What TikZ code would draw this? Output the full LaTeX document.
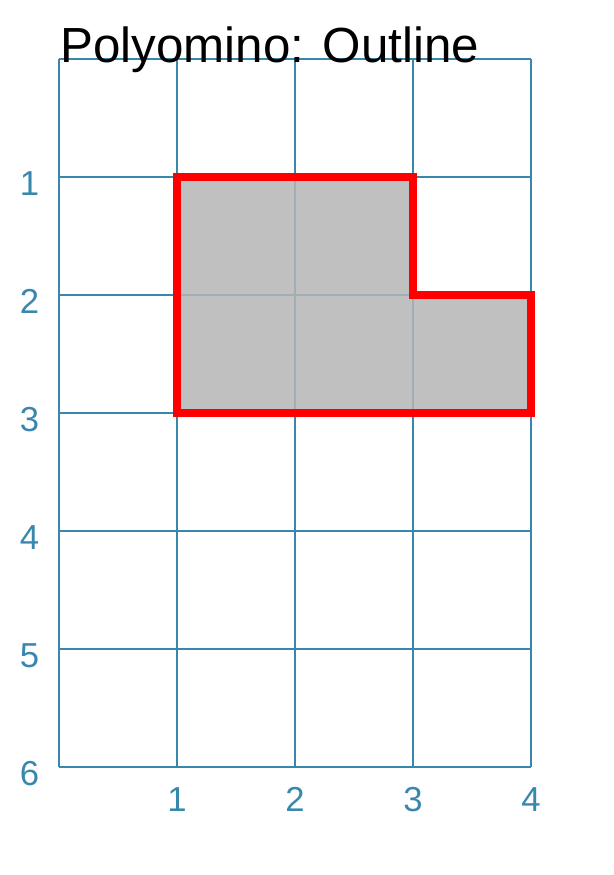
\documentclass[tikz,border=0pt]{standalone}
\usepackage{fontspec}
\setmainfont{Liberation Sans}
\definecolor{gridblue}{RGB}{58,135,173}
\definecolor{cellgray}{RGB}{181,181,181}
\tikzset{
  gridline/.style={draw=gridblue, line width=1.5pt},
  ticklabel/.style={text=gridblue, font=\fontsize{26}{30}\selectfont, inner sep=0pt},
  outline/.style={draw=red, line width=6pt, miter limit=10},
}
\begin{document}
\begin{tikzpicture}[x=88.5pt,y=88.5pt]
\useasboundingbox (-0.5,0.5) rectangle (4.695,-6.915);
\draw[gridline, step=88.5pt] (0,0) grid (4,-6);
\fill[cellgray, fill opacity=0.85] (1,-1) -- (3,-1) -- (3,-2) -- (4,-2) -- (4,-3) -- (1,-3) -- cycle;
\draw[outline] (1,-1) -- (3,-1) -- (3,-2) -- (4,-2) -- (4,-3) -- (1,-3) -- cycle;
\node[anchor=base west, inner sep=0pt, font=\fontsize{37}{44}\selectfont] (title) at (0.01,-0.03) {Polyomino: Outline};
\node[ticklabel, anchor=base] (r1) at (-0.25,-1.153) {1};
\node[ticklabel, anchor=base] (r2) at (-0.25,-2.153) {2};
\node[ticklabel, anchor=base] (r3) at (-0.25,-3.153) {3};
\node[ticklabel, anchor=base] (r4) at (-0.25,-4.153) {4};
\node[ticklabel, anchor=base] (r5) at (-0.25,-5.153) {5};
\node[ticklabel, anchor=base] (r6) at (-0.25,-6.153) {6};
\node[ticklabel, anchor=base] (c1) at (1,-6.381) {1};
\node[ticklabel, anchor=base] (c2) at (2,-6.381) {2};
\node[ticklabel, anchor=base] (c3) at (3,-6.381) {3};
\node[ticklabel, anchor=base] (c4) at (4,-6.381) {4};
\end{tikzpicture}
\end{document}
